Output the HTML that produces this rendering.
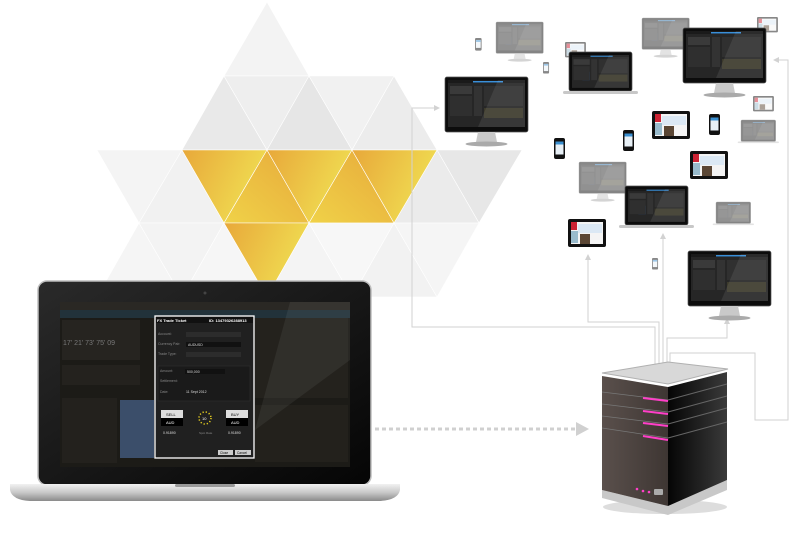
<!DOCTYPE html>
<html><head><meta charset="utf-8"><style>
html,body{margin:0;padding:0;background:#fff;width:800px;height:533px;overflow:hidden}
svg{display:block}
text{font-family:"Liberation Sans",sans-serif}
</style></head><body>
<svg width="800" height="533" viewBox="0 0 800 533" xmlns="http://www.w3.org/2000/svg">
<defs>
<linearGradient id="yg" x1="0" y1="0" x2="1" y2="0.4"><stop offset="0" stop-color="#e8a83a"/><stop offset="1" stop-color="#f0de52"/></linearGradient>
<linearGradient id="yg2" x1="0" y1="1" x2="1" y2="0"><stop offset="0" stop-color="#f0d248"/><stop offset="1" stop-color="#e7a93b"/></linearGradient>
<linearGradient id="bez" x1="0" y1="0" x2="1" y2="1"><stop offset="0" stop-color="#2a2a2a"/><stop offset="1" stop-color="#050505"/></linearGradient>
<linearGradient id="base" x1="0" y1="0" x2="0" y2="1"><stop offset="0" stop-color="#f2f2f2"/><stop offset="0.5" stop-color="#c8c8c8"/><stop offset="1" stop-color="#8a8a8a"/></linearGradient>
<linearGradient id="srvf" x1="0" y1="0" x2="1" y2="0"><stop offset="0" stop-color="#5a504c"/><stop offset="1" stop-color="#3e3633"/></linearGradient>
<linearGradient id="srvr" x1="0" y1="0" x2="1" y2="0"><stop offset="0" stop-color="#050505"/><stop offset="1" stop-color="#3a3a3a"/></linearGradient>
<g id="scr">
<rect x="0" y="0" width="77" height="47" fill="#262626"/>
<rect x="0" y="0" width="77" height="3" fill="#1a1a1a"/>
<rect x="25" y="1" width="30" height="1.5" fill="#3a8fd8"/>
<rect x="2" y="6" width="22" height="8" fill="#3a3a3a"/>
<rect x="26" y="6" width="8" height="30" fill="#333"/>
<rect x="36" y="6" width="39" height="20" fill="#303030"/>
<rect x="14" y="24" width="10" height="12" fill="#2b4f86"/>
<rect x="2" y="16" width="22" height="20" fill="#2f2f2f"/>
<rect x="36" y="28" width="39" height="10" fill="#3c3a2c"/>
<polygon points="50,0 77,0 77,47 30,47" fill="#fff" opacity="0.08"/>
</g>
<g id="mon">
<rect x="0" y="0" width="83" height="55" rx="2" fill="#0c0c0c" stroke="#555" stroke-width="0.7"/>
<use href="#scr" x="3" y="3"/>
<polygon points="33,55 50,55 52,65 31,65" fill="#c9c9c9"/>
<ellipse cx="41.5" cy="67" rx="21" ry="2.5" fill="#aaa"/>
</g>
<g id="lap">
<rect x="0" y="0" width="63" height="39" rx="2" fill="#0c0c0c" stroke="#555" stroke-width="0.7"/>
<use href="#scr" transform="translate(3,3) scale(0.74,0.70)"/>
<rect x="-6" y="39" width="75" height="3" rx="1.5" fill="#c8c8c8"/>
</g>
<g id="tab">
<rect x="0" y="0" width="38" height="28" rx="2" fill="#111"/>
<rect x="3" y="3" width="32" height="22" fill="#f4f4f4"/>
<rect x="3" y="3" width="6" height="8" fill="#c23"/>
<rect x="10" y="5" width="24" height="9" fill="#dbe8f4"/>
<rect x="12" y="15" width="10" height="10" fill="#5a4634"/>
<rect x="3" y="12" width="7" height="12" fill="#9bc"/>
</g>
<g id="ph">
<rect x="0" y="0" width="11" height="21" rx="2" fill="#111"/>
<rect x="1.5" y="3.5" width="8" height="13" fill="#e8f0f6"/>
<rect x="1.5" y="3.5" width="8" height="3" fill="#3a8fd0"/>
</g>
</defs>

<g stroke="#fff" stroke-width="0.6">
<polygon points="267,2 224,76 309,76" fill="#f3f3f3"/>
<polygon points="224,76 182,150 267,150" fill="#e9e9e9"/>
<polygon points="224,76 309,76 267,150" fill="#eeeeee"/>
<polygon points="309,76 267,150 352,150" fill="#e6e6e6"/>
<polygon points="309,76 394,76 352,150" fill="#f1f1f1"/>
<polygon points="394,76 352,150 437,150" fill="#ececec"/>
<polygon points="97,150 182,150 139,223" fill="#f4f4f4"/>
<polygon points="182,150 139,223 224,223" fill="#f1f1f1"/>
<polygon points="437,150 522,150 479,223" fill="#e7e7e7"/>
<polygon points="437,150 394,223 479,223" fill="#ebebeb"/>
<polygon points="182,150 267,150 224,223" fill="url(#yg)"/>
<polygon points="267,150 224,223 309,223" fill="url(#yg2)"/>
<polygon points="267,150 352,150 309,223" fill="url(#yg)"/>
<polygon points="352,150 309,223 394,223" fill="url(#yg2)"/>
<polygon points="352,150 437,150 394,223" fill="url(#yg)"/>
<polygon points="139,223 97,297 182,297" fill="#f5f5f5"/>
<polygon points="139,223 224,223 182,297" fill="#f3f3f3"/>
<polygon points="224,223 182,297 267,297" fill="#f6f6f6"/>
<polygon points="224,223 309,223 267,297" fill="url(#yg)"/>
<polygon points="309,223 267,297 352,297" fill="#f4f4f4"/>
<polygon points="309,223 394,223 352,297" fill="#f7f7f7"/>
<polygon points="394,223 352,297 437,297" fill="#f2f2f2"/>
<polygon points="394,223 479,223 437,297" fill="#f5f5f5"/>
</g>

<g fill="none" stroke="#d2d2d2" stroke-width="1">
<polyline points="437,108 412,108 412,327 655,327 655,368"/>
<polyline points="588,258 588,322 659,322 659,368"/>
<polyline points="663,237 663,368"/>
<polyline points="727,322 727,338 667,338 667,368"/>
<polyline points="670,368 670,353 755,353 755,420 788,420 788,60 776,60"/>
</g>
<g fill="#d2d2d2">
<polygon points="440,108 434,105 434,111"/>
<polygon points="588,254 585,260 591,260"/>
<polygon points="663,233 660,239 666,239"/>
<polygon points="727,318 724,324 730,324"/>
<polygon points="773,60 779,57 779,63"/>
</g>

<g opacity="0.5">
<use href="#mon" transform="translate(496,22) scale(0.57)"/>
<use href="#mon" transform="translate(642,18) scale(0.57)"/>
<use href="#mon" transform="translate(579,162) scale(0.57)"/>
<use href="#lap" transform="translate(716,202) scale(0.55)"/>
<use href="#lap" transform="translate(741,120) scale(0.55)"/>
<use href="#tab" transform="translate(753,96) scale(0.55)"/>
<use href="#tab" transform="translate(757,17) scale(0.55)"/>
<use href="#tab" transform="translate(565,42) scale(0.55)"/>
<use href="#ph" transform="translate(475,38) scale(0.6)"/>
<use href="#ph" transform="translate(543,62) scale(0.55)"/>
<use href="#ph" transform="translate(652,258) scale(0.55)"/>
</g>

<use href="#mon" transform="translate(445,77)"/>
<use href="#mon" transform="translate(683,28)"/>
<use href="#mon" transform="translate(688,251)"/>
<use href="#lap" transform="translate(569,52)"/>
<use href="#lap" transform="translate(625,186)"/>
<use href="#tab" transform="translate(652,111)"/>
<use href="#tab" transform="translate(690,151)"/>
<use href="#tab" transform="translate(568,219)"/>
<use href="#ph" transform="translate(554,138)"/>
<use href="#ph" transform="translate(623,130)"/>
<use href="#ph" transform="translate(709,114)"/>

<rect x="38" y="281" width="333" height="204" rx="9" fill="url(#bez)" stroke="#bdbdbd" stroke-width="1.5"/>
<circle cx="205" cy="293" r="1.5" fill="#444"/>
<rect x="60" y="302" width="290" height="165" fill="#1c1b17"/>
<rect x="60" y="302" width="290" height="8" fill="#2a2824"/>
<rect x="60" y="310" width="290" height="8" fill="#22323a"/>
<rect x="62" y="320" width="78" height="40" fill="#262420"/>
<text x="63" y="345" font-size="7" fill="#777">17' 21' 73' 75' 09</text>
<rect x="62" y="365" width="78" height="20" fill="#24221e"/>
<rect x="62" y="398" width="55" height="65" fill="#23211d"/>
<rect x="120" y="400" width="34" height="58" fill="#3b4e6a"/>
<rect x="255" y="318" width="93" height="80" fill="#24221d"/>
<rect x="255" y="405" width="93" height="57" fill="#23211c"/>
<polygon points="290,302 350,302 350,360 255,430" fill="#fff" opacity="0.06"/>
<rect x="155" y="316" width="99" height="142" fill="#202020" stroke="#fff" stroke-width="1.3"/>
<rect x="156" y="317" width="97" height="6" fill="#111"/>
<text x="157" y="322" font-size="4" fill="#fff" font-weight="bold">FX Trade Ticket</text>
<text x="209" y="322" font-size="4" fill="#fff" font-weight="bold">ID: 13479326288913</text>
<text x="158" y="335" font-size="3.5" fill="#888">Account:</text><rect x="186" y="332" width="55" height="5" fill="#2c2c2c"/>
<text x="158" y="345" font-size="3.5" fill="#888">Currency Pair:</text><rect x="186" y="342" width="55" height="5" fill="#111"/><text x="188" y="346" font-size="3.5" fill="#ddd">AUDUSD</text>
<text x="158" y="355" font-size="3.5" fill="#888">Trade Type:</text><rect x="186" y="352" width="55" height="5" fill="#2c2c2c"/>
<rect x="158" y="366" width="92" height="35" fill="#1a1a1a" stroke="#333" stroke-width="0.5"/>
<text x="160" y="372" font-size="3.5" fill="#888">Amount:</text><rect x="185" y="369" width="40" height="5" fill="#111"/><text x="187" y="373" font-size="3.5" fill="#ddd">500,000</text>
<text x="160" y="382" font-size="3.5" fill="#888">Settlement:</text>
<text x="160" y="393" font-size="3.5" fill="#888">Date:</text><text x="186" y="393" font-size="3.5" fill="#ddd">11 Sept 2012</text>
<rect x="161" y="410" width="22" height="16" fill="#ddd"/><rect x="161" y="418" width="22" height="8" fill="#000"/>
<text x="166" y="416" font-size="4" fill="#000">SELL</text><text x="166" y="424" font-size="4" fill="#fff">AUD</text>
<rect x="226" y="410" width="22" height="16" fill="#ddd"/><rect x="226" y="418" width="22" height="8" fill="#000"/>
<text x="231" y="416" font-size="4" fill="#000">BUY</text><text x="231" y="424" font-size="4" fill="#fff">AUD</text>
<circle cx="205" cy="418" r="6" fill="none" stroke="#e8d020" stroke-width="1.5" stroke-dasharray="1.2 2"/>
<text x="202" y="420" font-size="4" fill="#fff">10</text>
<text x="163" y="434" font-size="3.5" fill="#ddd">0.91890</text>
<text x="199" y="434" font-size="3" fill="#888">Spot Rate</text>
<text x="228" y="434" font-size="3.5" fill="#ddd">0.91890</text>
<rect x="218" y="450" width="15" height="5" fill="#ccc"/><rect x="235" y="450" width="16" height="5" fill="#ccc"/>
<text x="220" y="454" font-size="3.2" fill="#000">Close</text><text x="237" y="454" font-size="3.2" fill="#000">Cancel</text>
<path d="M10,484 L400,484 L400,490 Q398,500 380,501 L30,501 Q12,500 10,490 Z" fill="url(#base)"/>
<rect x="175" y="484" width="60" height="3" rx="1.5" fill="#999"/>

<line x1="375" y1="429" x2="575" y2="429" stroke="#d0d0d0" stroke-width="3" stroke-dasharray="4 3"/>
<polygon points="576,422 589,429 576,436" fill="#d0d0d0"/>

<ellipse cx="665" cy="507" rx="62" ry="7" fill="#ddd"/>
<polygon points="602,490 668,506 727,480 727,490 668,515 602,498" fill="#c8c8c8"/>
<polygon points="602,376 668,387 668,506 602,490" fill="url(#srvf)"/>
<polygon points="668,387 727,372 727,480 668,506" fill="url(#srvr)"/>
<polygon points="602,373 668,362 728,369 668,384" fill="#d8d8d8" stroke="#b0b0b0" stroke-width="1"/>
<g stroke="#777" stroke-width="0.8">
<line x1="602" y1="392" x2="668" y2="400"/><line x1="602" y1="404" x2="668" y2="412"/>
<line x1="602" y1="416" x2="668" y2="424"/><line x1="602" y1="428" x2="668" y2="438"/>
</g>
<g stroke="#666" stroke-width="1">
<line x1="668" y1="400" x2="727" y2="384"/><line x1="668" y1="412" x2="727" y2="396"/>
<line x1="668" y1="424" x2="727" y2="408"/><line x1="668" y1="438" x2="727" y2="422"/>
</g>
<g stroke="#ff3fc8" stroke-width="2">
<line x1="643" y1="398" x2="668" y2="401"/><line x1="643" y1="411" x2="668" y2="414"/>
<line x1="643" y1="423" x2="668" y2="426"/><line x1="643" y1="436" x2="668" y2="440"/>
</g>
<circle cx="637" cy="489" r="1.3" fill="#ff3fc8"/><circle cx="643" cy="491" r="1.3" fill="#ff3fc8"/><circle cx="649" cy="492" r="1.3" fill="#ff3fc8"/>
<rect x="654" y="489" width="9" height="6" rx="1" fill="#aaa"/>
</svg>
</body></html>
